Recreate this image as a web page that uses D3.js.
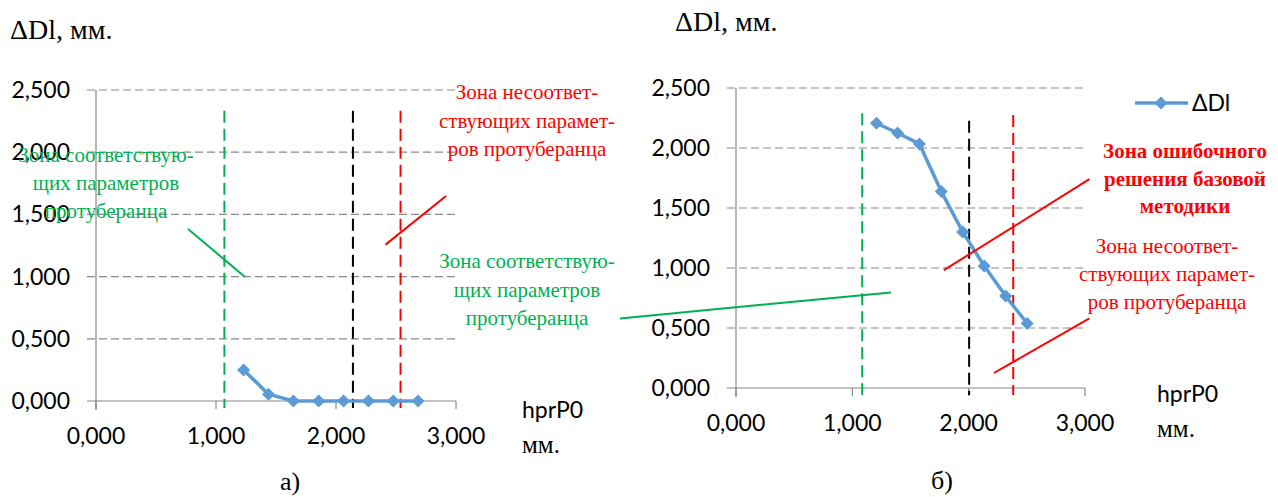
<!DOCTYPE html>
<html lang="ru">
<head>
<meta charset="utf-8">
<script src="https://cdn.jsdelivr.net/npm/d3@7"></script>
<style>
  html, body { margin: 0; padding: 0; background: #fff; }
  svg { display: block; }
</style>
</head>
<body>
<div id="chart"></div>
<script>
// data
const yTicks = [0, 0.5, 1, 1.5, 2, 2.5];
const xTicks = [0, 1, 2, 3];
const hLeft = [1.23, 1.437, 1.645, 1.856, 2.063, 2.27, 2.477, 2.684];
const dLeft = [0.25, 0.055, 0, 0, 0, 0, 0, 0];
const hRight = [1.208, 1.389, 1.577, 1.765, 1.949, 2.134, 2.318, 2.503];
const dRight = [2.206, 2.125, 2.034, 1.637, 1.301, 1.016, 0.766, 0.538];

// zone borders: x value, top value, colour
const bordersLeft = [[1.07, 2.334, "#00B050"], [2.141, 2.334, "#000"], [2.538, 2.334, "#FF0000"]];
const bordersRight = [[1.085, 2.289, "#00B050"], [2.004, 2.228, "#000"], [2.383, 2.275, "#FF0000"]];

// leader lines of the notes (in data units)
const leadersLeft = [
  [[0.767, 1.383], [1.242, 0.997], "#00B050"],
  [[2.413, 1.257], [2.917, 1.648], "#FF0000"]
];
const leadersRight = [
  [[-0.997, 0.58], [1.331, 0.796], "#00B050"],
  [[1.787, 0.982], [3.038, 1.74], "#FF0000"],
  [[2.217, 0.125], [3.038, 0.58], "#FF0000"]
];

const SANS = "'Lato'";
const SERIF = "'Liberation Serif'";

// 2,500 style: comma as decimal mark
const fmt = d3.format(".3f");
const fmtRu = v => fmt(v).replace(".", ",");

const W = 1278, H = 497;
const svg = d3.select("#chart").append("svg")
  .attr("width", W)
  .attr("height", H);

function drawChart(left, top, w, h, xs, ys, borders, leaders) {
  const x = d3.scaleLinear().domain([0, 3]).range([left, left + w]);
  const y = d3.scaleLinear().domain([0, 2.5]).range([top + h, top]);
  const g = svg.append("g");

  // horizontal grid
  g.selectAll("line.grid").data(yTicks.filter(d => d > 0)).join("line")
    .attr("x1", x(0) - 9).attr("x2", x(3))
    .attr("y1", d => y(d)).attr("y2", d => y(d))
    .attr("stroke", "#888").attr("stroke-width", 1.2)
    .attr("stroke-dasharray", "8,4");

  // axes
  g.append("line").attr("x1", x(0)).attr("x2", x(0))
    .attr("y1", y(2.5)).attr("y2", y(0) + 9)
    .attr("stroke", "#888").attr("stroke-width", 1.2);
  g.append("line").attr("x1", x(0) - 9).attr("x2", x(3))
    .attr("y1", y(0)).attr("y2", y(0))
    .attr("stroke", "#888").attr("stroke-width", 1.2);
  g.selectAll("line.xt").data(xTicks).join("line")
    .attr("x1", d => x(d)).attr("x2", d => x(d))
    .attr("y1", y(0)).attr("y2", y(0) + 8)
    .attr("stroke", "#888").attr("stroke-width", 1.2);

  g.selectAll("text.yl").data(yTicks).join("text")
    .style("font-family", SANS).style("font-size", "23px")
    .attr("x", x(0) - 26).attr("y", d => y(d))
    .attr("dy", "0.35em").attr("text-anchor", "end")
    .text(fmtRu);
  g.selectAll("text.xl").data(xTicks).join("text")
    .style("font-family", SANS).style("font-size", "23px")
    .attr("x", d => x(d)).attr("y", y(0) + 43)
    .attr("text-anchor", "middle")
    .text(fmtRu);

  // zone borders
  g.selectAll("line.border").data(borders).join("line")
    .attr("x1", d => x(d[0])).attr("x2", d => x(d[0]))
    .attr("y1", d => y(d[1])).attr("y2", y(0) + 7)
    .attr("stroke", d => d[2]).attr("stroke-width", 2)
    .attr("stroke-dasharray", "12,6");

  // series
  const pts = xs.map((v, i) => [v, ys[i]]);
  g.append("path").datum(pts)
    .attr("fill", "none").attr("stroke", "#5B9BD5").attr("stroke-width", 3.5)
    .attr("stroke-linejoin", "round")
    .attr("d", d3.line().x(d => x(d[0])).y(d => y(d[1])));
  g.selectAll("path.mk").data(pts).join("path")
    .attr("transform", d => `translate(${x(d[0])},${y(d[1])}) rotate(45)`)
    .attr("d", d3.symbol(d3.symbolSquare, 85))
    .attr("fill", "#5B9BD5");

  // leaders
  g.selectAll("line.lead").data(leaders).join("line")
    .attr("x1", d => x(d[0][0])).attr("y1", d => y(d[0][1]))
    .attr("x2", d => x(d[1][0])).attr("y2", d => y(d[1][1]))
    .attr("stroke", d => d[2]).attr("stroke-width", 2);

  return { x, y };
}

function label(x, y, s, family, size, anchor) {
  return svg.append("text")
    .style("font-family", family).style("font-size", size + "px")
    .attr("x", x).attr("y", y)
    .attr("text-anchor", anchor || "start")
    .text(s);
}

function note(lines, cx, y0, step, color, size, bold) {
  const t = svg.append("text")
    .style("font-family", SERIF).style("font-size", size + "px")
    .style("font-weight", bold ? "bold" : "normal")
    .attr("text-anchor", "middle")
    .attr("fill", color);
  lines.forEach((s, i) => t.append("tspan").attr("x", cx).attr("y", y0 + i * step).text(s));
}

drawChart(96, 90, 360, 311, hLeft, dLeft, bordersLeft, leadersLeft);
drawChart(736, 88, 349, 300, hRight, dRight, bordersRight, leadersRight);

// titles
label(10, 39, "ΔDl, мм.", SERIF, 28);
label(675, 31, "ΔDl, мм.", SERIF, 28);

label(522, 418, "hprP0", SANS, 23);
label(522, 453, "мм.", SERIF, 25);
label(1157, 402, "hprP0", SANS, 23);
label(1157, 437, "мм.", SERIF, 25);

label(290, 490, "а)", SERIF, 26, "middle");
label(942, 489, "б)", SERIF, 26, "middle");

// notes
const green = "#00B050", red = "#FF0000";
note(["Зона соответствую-", "щих параметров", "протуберанца"], 106, 162, 28, green, 21, false);
note(["Зона несоответ-", "ствующих парамет-", "ров протуберанца"], 527, 99, 28.5, red, 21, false);
note(["Зона соответствую-", "щих параметров", "протуберанца"], 527, 268, 28.5, green, 21, false);
note(["Зона ошибочного", "решения базовой", "методики"], 1185, 158, 27.5, red, 21, true);
note(["Зона несоответ-", "ствующих парамет-", "ров протуберанца"], 1167, 253, 28, red, 21, false);

// legend
const lg = svg.append("g");
lg.append("line").attr("x1", 1135).attr("x2", 1188).attr("y1", 103).attr("y2", 103)
  .attr("stroke", "#5B9BD5").attr("stroke-width", 3.5);
lg.append("path").attr("transform", "translate(1161,103) rotate(45)")
  .attr("d", d3.symbol(d3.symbolSquare, 85)).attr("fill", "#5B9BD5");
label(1192, 111, "ΔDl", SANS, 23);
</script>
</body>
</html>
